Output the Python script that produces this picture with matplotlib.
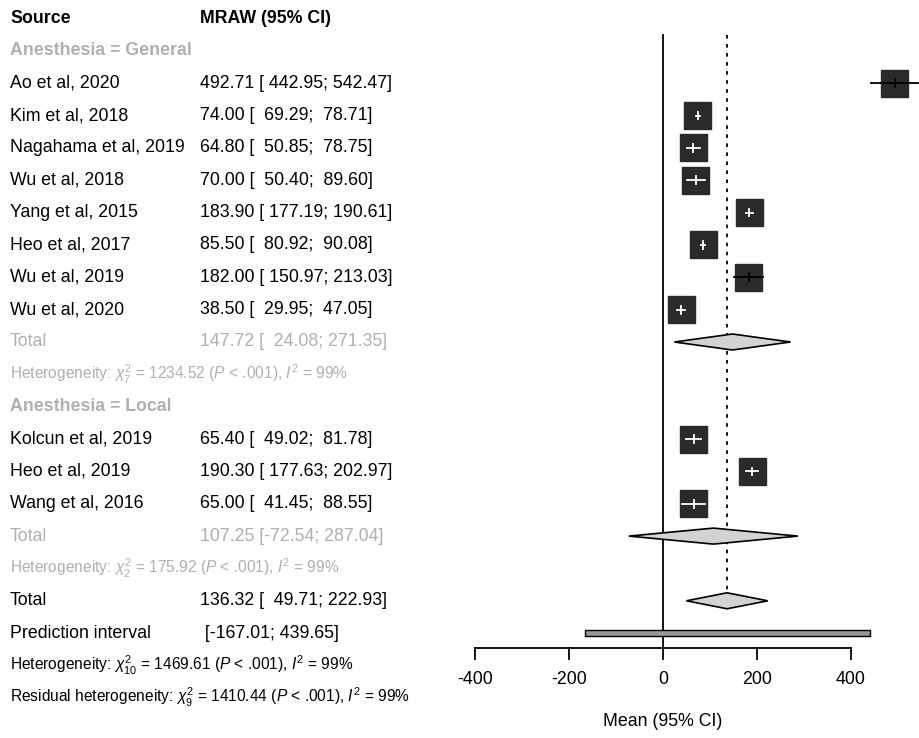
import matplotlib
matplotlib.use("Agg")
import matplotlib.pyplot as plt
import matplotlib.transforms as mtransforms
from matplotlib.patches import Rectangle, Polygon

plt.rcParams['font.family'] = ['Liberation Sans', 'DejaVu Sans']
plt.rcParams['mathtext.fontset'] = 'custom'
plt.rcParams['mathtext.rm'] = 'Liberation Sans'
plt.rcParams['mathtext.it'] = 'Liberation Sans:italic'

# -- data --------------------------------------------------------------------
general_studies = ['Ao et al, 2020', 'Kim et al, 2018', 'Nagahama et al, 2019',
                   'Wu et al, 2018', 'Yang et al, 2015', 'Heo et al, 2017',
                   'Wu et al, 2019', 'Wu et al, 2020']
general_mean = [492.71, 74.00, 64.80, 70.00, 183.90, 85.50, 182.00, 38.50]
general_lo = [442.95, 69.29, 50.85, 50.40, 177.19, 80.92, 150.97, 29.95]
general_hi = [542.47, 78.71, 78.75, 89.60, 190.61, 90.08, 213.03, 47.05]
general_total = (147.72, 24.08, 271.35)

local_studies = ['Kolcun et al, 2019', 'Heo et al, 2019', 'Wang et al, 2016']
local_mean = [65.40, 190.30, 65.00]
local_lo = [49.02, 177.63, 41.45]
local_hi = [81.78, 202.97, 88.55]
local_total = (107.25, -72.54, 287.04)

overall_total = (136.32, 49.71, 222.93)
pred_interval = (-167.01, 439.65)

het_general = r'Heterogeneity: $\chi^2_7$ = 1234.52 ($P$ < .001), $I^2$ = 99%'
het_local = r'Heterogeneity: $\chi^2_2$ = 175.92 ($P$ < .001), $I^2$ = 99%'
het_overall = r'Heterogeneity: $\chi^2_{10}$ = 1469.61 ($P$ < .001), $I^2$ = 99%'
het_resid = r'Residual heterogeneity: $\chi^2_9$ = 1410.44 ($P$ < .001), $I^2$ = 99%'

x_ticks = [-400, -200, 0, 200, 400]

# -- layout ------------------------------------------------------------------
W, H = 919, 738
PX_PER_UNIT = 188 / 400.0        # -400 -> 475px, 400 -> 851px
X0_PX = 663
ROW0_PX, ROW_PX = 18.5, 32.35
FS, FS_SMALL = 12.8, 11.2
GREY = '#b0b0b0'
BOX = '#2a2a2a'


def fmt_ci(m, lo, hi):
    los = f'{lo:7.2f}' if lo >= 0 else f'{lo:.2f}'
    return f'{m:.2f} [{los}; {hi:6.2f}]'


fig = plt.figure(figsize=(W / 100, H / 100), dpi=100)
ax = fig.add_axes([0, 0, 1, 1])
ax.set_xlim(-X0_PX / PX_PER_UNIT, (W - X0_PX) / PX_PER_UNIT)
ax.set_ylim((H - ROW0_PX) / ROW_PX, -ROW0_PX / ROW_PX)
ax.axis('off')
tr = mtransforms.blended_transform_factory(ax.transAxes, ax.transData)
XS, XV = 10 / W, 200 / W

box_w = 27 / PX_PER_UNIT
box_h = 27 / ROW_PX
dia_h = 8 / ROW_PX


def label(row, left, right=None, color='black', weight='normal', size=FS):
    ax.text(XS, row, left, transform=tr, va='center', ha='left',
            color=color, fontweight=weight, fontsize=size)
    if right is not None:
        ax.text(XV, row, right, transform=tr, va='center', ha='left',
                color=color, fontweight=weight, fontsize=size)


def study(row, name, m, lo, hi):
    label(row, name, fmt_ci(m, lo, hi))
    ax.plot([lo, hi], [row, row], color='black', lw=1.3, zorder=3)
    ax.add_patch(Rectangle((m - box_w / 2, row - box_h / 2), box_w, box_h,
                           facecolor=BOX, edgecolor=BOX, zorder=4))
    inside = lo >= m - box_w / 2 and hi <= m + box_w / 2
    c = 'white' if inside else 'black'
    a, b = max(lo, m - box_w / 2), min(hi, m + box_w / 2)
    ax.plot([a, b], [row, row], color=c, lw=1.3, zorder=5)
    ax.plot([m, m], [row - 0.12, row + 0.12], color=c, lw=1.3, zorder=5)


def diamond(row, m, lo, hi):
    ax.add_patch(Polygon([(lo, row), (m, row - dia_h), (hi, row), (m, row + dia_h)],
                         closed=True, facecolor='#d3d3d3', edgecolor='black',
                         lw=1.2, zorder=4))


# header
label(0, 'Source', 'MRAW (95% CI)', weight='bold')

# general subgroup
label(1, 'Anesthesia = General', color=GREY, weight='bold')
row = 2
for n, m, lo, hi in zip(general_studies, general_mean, general_lo, general_hi):
    study(row, n, m, lo, hi)
    row += 1
label(row, 'Total', fmt_ci(*general_total), color=GREY)
diamond(row, *general_total)
row += 1
label(row, het_general, color=GREY, size=FS_SMALL)
row += 1

# local subgroup
label(row, 'Anesthesia = Local', color=GREY, weight='bold')
row += 1
for n, m, lo, hi in zip(local_studies, local_mean, local_lo, local_hi):
    study(row, n, m, lo, hi)
    row += 1
label(row, 'Total', fmt_ci(*local_total), color=GREY)
diamond(row, *local_total)
row += 1
label(row, het_local, color=GREY, size=FS_SMALL)
row += 1

# overall
total_row = row
label(row, 'Total', fmt_ci(*overall_total))
diamond(row, *overall_total)
row += 1
label(row, 'Prediction interval', f' [{pred_interval[0]:.2f}; {pred_interval[1]:.2f}]')
ph = 3 / ROW_PX
ax.add_patch(Rectangle((pred_interval[0], row - ph), pred_interval[1] - pred_interval[0],
                       2 * ph, facecolor='#999999', edgecolor='black', lw=1.0, zorder=4))
row += 1
label(row, het_overall, size=FS_SMALL)
label(row + 1, het_resid, size=FS_SMALL)

# reference lines
axis_row = (648 - ROW0_PX) / ROW_PX
top_row = (35 - ROW0_PX) / ROW_PX
tick_len = 11 / ROW_PX
ax.plot([0, 0], [top_row, axis_row], color='black', lw=1.3, zorder=2)
ax.plot([overall_total[0]] * 2, [top_row, total_row - dia_h], color='black',
        lw=1.3, ls=(0, (2, 3)), zorder=2)

# x axis
ax.plot([x_ticks[0], x_ticks[-1]], [axis_row, axis_row], color='black', lw=1.3)
for t in x_ticks:
    ax.plot([t, t], [axis_row, axis_row + tick_len], color='black', lw=1.3)
    ax.text(t, (680 - ROW0_PX) / ROW_PX, f'{t}', ha='center', va='center', fontsize=FS)
ax.text(0, (722 - ROW0_PX) / ROW_PX, 'Mean (95% CI)', ha='center', va='center', fontsize=FS)

fig.savefig('out.png', dpi=100)
